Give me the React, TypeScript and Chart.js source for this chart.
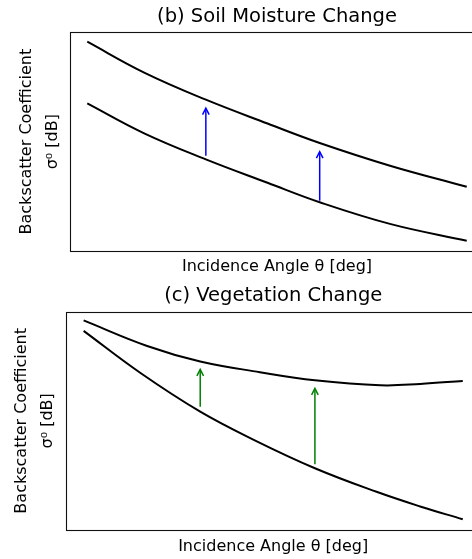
import React, { useEffect, useRef } from "react";
import { Chart, registerables } from "chart.js";

Chart.register(...registerables);

// (b) Soil moisture change
const soilAngles = [20, 26, 32.5, 39, 44.5, 52, 60];
const soilWet = [95.7, 81.6, 69.2, 58.3, 49.4, 38.9, 29.4];
const soilDry = [67.5, 53.8, 41.9, 31.2, 22.3, 12.3, 4.7];
const soilArrowAngles = [32.5, 44.5];
const soilArrowFrom = [43.6, 23.0];
const soilArrowTo = [65.3, 45.4];

// (c) Vegetation change
const vegUpperAngles = [20, 26.7, 32.3, 38.6, 44.4, 51.3, 55.5, 60];
const vegUpper = [96.0, 84.3, 77.2, 72.3, 68.6, 66.3, 66.9, 68.3];
const vegLowerAngles = [20, 26, 32.3, 38, 44.4, 50.9, 55.5, 60];
const vegLower = [91.2, 71.9, 54.2, 41.2, 28.3, 17.5, 10.8, 4.9];
const vegArrowAngles = [32.3, 44.4];
const vegArrowFrom = [56.5, 30.1];
const vegArrowTo = [73.6, 64.9];

const FONT = "'DejaVu Sans', sans-serif";
const TEXT = "#000";

const framePlugin = {
  id: "frameArrows",
  afterDatasetsDraw(chart: any, _args: any, opts: any) {
    const { ctx, chartArea, scales } = chart;
    ctx.save();
    ctx.strokeStyle = "#111";
    ctx.lineWidth = 1.1;
    ctx.strokeRect(
      Math.round(chartArea.left) + 0.5,
      Math.round(chartArea.top) + 0.5,
      Math.round(chartArea.right - chartArea.left),
      Math.round(chartArea.bottom - chartArea.top)
    );
    const xs: number[] = opts.xs || [];
    const from: number[] = opts.from || [];
    const to: number[] = opts.to || [];
    ctx.strokeStyle = opts.color || "blue";
    ctx.lineWidth = 1.5;
    ctx.lineCap = "butt";
    for (let i = 0; i < xs.length; i++) {
      const px = scales.x.getPixelForValue(xs[i]);
      const y0 = scales.y.getPixelForValue(from[i]);
      const y1 = scales.y.getPixelForValue(to[i]);
      ctx.beginPath();
      ctx.moveTo(px, y0);
      ctx.lineTo(px, y1 + 0.5);
      ctx.stroke();
      ctx.beginPath();
      ctx.moveTo(px - 3.3, y1 + 6.5);
      ctx.lineTo(px, y1);
      ctx.lineTo(px + 3.3, y1 + 6.5);
      ctx.stroke();
    }
    ctx.restore();
  },
};

type PanelProps = {
  title: string;
  top: number;
  height: number;
  yWidth: number;
  xMin: number;
  xMax: number;
  padRight: number;
  titlePadTop: number;
  titlePadBottom: number;
  xLabelPad: number;
  yLabelPad: number;
  yLabelLine: number;
  curves: { x: number[]; y: number[] }[];
  arrowXs: number[];
  arrowFrom: number[];
  arrowTo: number[];
  arrowColor: string;
};

function Panel(p: PanelProps) {
  const ref = useRef<HTMLCanvasElement | null>(null);
  useEffect(() => {
    if (!ref.current) return;
    const chart = new Chart(ref.current, {
      type: "line",
      data: {
        datasets: p.curves.map((c) => ({
          data: c.x.map((x, i) => ({ x, y: c.y[i] })),
          borderColor: "#000",
          borderWidth: 2,
          pointRadius: 0,
          fill: false,
          tension: 0.4,
        })),
      },
      options: {
        animation: false,
        responsive: false,
        maintainAspectRatio: false,
        layout: { padding: { left: 0, right: p.padRight, top: 0, bottom: 0 } },
        plugins: {
          legend: { display: false },
          tooltip: { enabled: false },
          title: {
            display: true,
            text: p.title,
            color: TEXT,
            fullSize: false,
            font: { family: FONT, size: 19.5, weight: "normal", lineHeight: 1.2 },
            padding: { top: p.titlePadTop, bottom: p.titlePadBottom },
          },
          frameArrows: {
            xs: p.arrowXs,
            from: p.arrowFrom,
            to: p.arrowTo,
            color: p.arrowColor,
          },
        } as any,
        scales: {
          x: {
            type: "linear",
            min: p.xMin,
            max: p.xMax,
            grid: { display: false },
            border: { display: false },
            ticks: { display: false },
            title: {
              display: true,
              text: "Incidence Angle θ [deg]",
              color: TEXT,
              font: { family: FONT, size: 16, lineHeight: 1.2 },
              padding: { top: 0, bottom: p.xLabelPad },
            },
            afterFit: (s: any) => {
              s.height = 29;
            },
          },
          y: {
            type: "linear",
            min: 0,
            max: 100,
            grid: { display: false },
            border: { display: false },
            ticks: { display: false },
            title: {
              display: true,
              text: ["Backscatter Coefficient", "σ⁰ [dB]"],
              color: TEXT,
              font: { family: FONT, size: 16, lineHeight: p.yLabelLine + "px" },
              padding: { top: p.yLabelPad, bottom: 0 },
            },
            afterFit: (s: any) => {
              s.width = p.yWidth;
            },
          },
        },
      } as any,
      plugins: [framePlugin],
    });
    return () => chart.destroy();
  }, []);
  return (
    <div style={{ position: "absolute", left: 0, top: p.top, width: 490, height: p.height }}>
      <canvas ref={ref} width={490} height={p.height} style={{ display: "block" }} />
    </div>
  );
}

export default function App() {
  return (
    <div style={{ position: "absolute", left: 0, top: 0, width: 472, height: 559, overflow: "hidden", background: "#fff" }}>
      <Panel
        title="(b) Soil Moisture Change"
        top={0}
        height={280}
        yWidth={70}
        xMin={18.18}
        xMax={61.82}
        padRight={6}
        titlePadTop={5}
        titlePadBottom={3.9}
        xLabelPad={3.6}
        yLabelPad={14.25}
        yLabelLine={25.5}
        curves={[
          { x: soilAngles, y: soilWet },
          { x: soilAngles, y: soilDry },
        ]}
        arrowXs={soilArrowAngles}
        arrowFrom={soilArrowFrom}
        arrowTo={soilArrowTo}
        arrowColor="#0000ff"
      />
      <Panel
        title="(c) Vegetation Change"
        top={280}
        height={279}
        yWidth={66}
        xMin={18.14}
        xMax={61.86}
        padRight={9.6}
        titlePadTop={4}
        titlePadBottom={4.3}
        xLabelPad={2.7}
        yLabelPad={9}
        yLabelLine={26}
        curves={[
          { x: vegUpperAngles, y: vegUpper },
          { x: vegLowerAngles, y: vegLower },
        ]}
        arrowXs={vegArrowAngles}
        arrowFrom={vegArrowFrom}
        arrowTo={vegArrowTo}
        arrowColor="#008000"
      />
    </div>
  );
}
